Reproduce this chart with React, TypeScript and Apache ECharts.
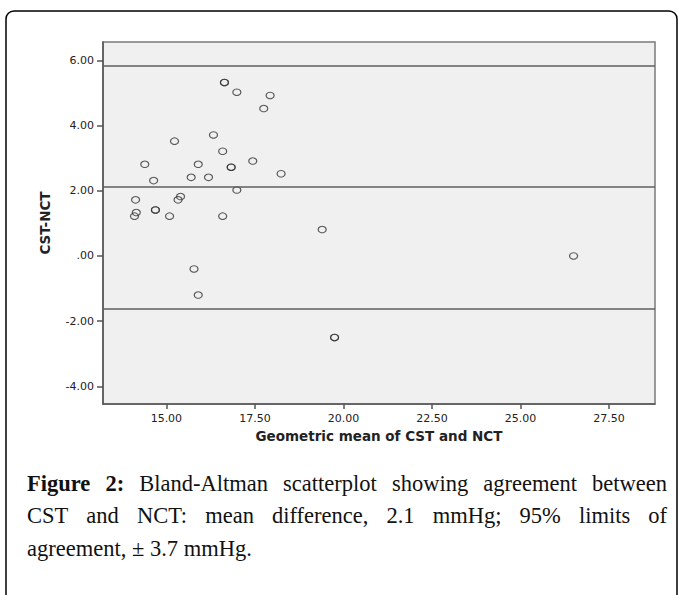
import React, { useEffect, useRef } from "react";
import * as echarts from "echarts";

// Geometric mean of CST and NCT (x) and CST-NCT difference (y)
const meanValues = [
  14.13, 14.15, 14.1, 14.39, 14.64, 14.69, 14.69, 15.09, 15.23, 15.33, 15.4,
  15.7, 15.9, 16.19, 16.33, 15.78, 15.9, 16.64, 16.64, 16.99, 17.93, 17.75,
  16.59, 17.44, 16.83, 16.83, 18.24, 16.99, 16.59, 19.4, 19.75, 19.75, 26.5,
];
const diffValues = [
  1.72, 1.33, 1.22, 2.81, 2.31, 1.41, 1.41, 1.22, 3.52, 1.72, 1.82,
  2.41, 2.81, 2.41, 3.71, -0.4, -1.2, 5.32, 5.32, 5.02, 4.92, 4.52,
  3.21, 2.91, 2.72, 2.72, 2.52, 2.02, 1.22, 0.81, -2.5, -2.5, 0.0,
];
// upper limit of agreement, mean difference, lower limit of agreement
const limitValues = [5.83, 2.11, -1.61];
const xTicks = [15, 17.5, 20, 22.5, 25, 27.5];
const yTicks = [-4, -2, 0, 2, 4, 6];
const xTitle = "Geometric mean of CST and NCT";
const yTitle = "CST-NCT";
const captionLine1 = [
  { t: "Figure", b: true },
  { t: "2:", b: true },
  { t: "Bland-Altman", b: false },
  { t: "scatterplot", b: false },
  { t: "showing", b: false },
  { t: "agreement", b: false },
  { t: "between", b: false },
];
const captionLine2 = ["CST", "and", "NCT:", "mean", "difference,", "2.1", "mmHg;", "95%", "limits", "of"];
const captionLine3 = "agreement, ± 3.7 mmHg.";

function fmt(v: number): string {
  const s = Number(v).toFixed(2);
  return s.replace(/^0\./, ".").replace(/^-0\./, "-.");
}

const FS = 22.5;
const FF = '"Liberation Serif", "Times New Roman", serif';
const CAP_LEFT = 27;
const CAP_RIGHT = 667;

function buildCaption(): any[] {
  const canvas = document.createElement("canvas");
  const ctx = canvas.getContext("2d")!;
  const measure = (t: string, bold: boolean) => {
    ctx.font = `${bold ? "bold " : ""}${FS}px ${FF}`;
    return ctx.measureText(t).width;
  };
  const out: any[] = [];
  const justify = (words: { t: string; b: boolean }[], y: number) => {
    const widths = words.map((w) => measure(w.t, w.b));
    const total = widths.reduce((a, b) => a + b, 0);
    const gap = (CAP_RIGHT - CAP_LEFT - total) / (words.length - 1);
    let x = CAP_LEFT;
    words.forEach((w, i) => {
      out.push({
        type: "text",
        x,
        y,
        silent: true,
        style: {
          text: w.t,
          fontFamily: FF,
          fontSize: FS,
          fontWeight: w.b ? "bold" : "normal",
          fill: "#111",
          verticalAlign: "middle",
          align: "left",
        },
      });
      x += widths[i] + gap;
    });
  };
  justify(captionLine1, 483);
  justify(captionLine2.map((t) => ({ t, b: false })), 515);
  out.push({
    type: "text",
    x: CAP_LEFT,
    y: 548,
    silent: true,
    style: {
      text: captionLine3,
      fontFamily: FF,
      fontSize: FS,
      fill: "#111",
      verticalAlign: "middle",
      align: "left",
    },
  });
  return out;
}

export default function App() {
  const ref = useRef<HTMLDivElement>(null);
  useEffect(() => {
    if (!ref.current) return;
    const chart = echarts.init(ref.current, null, { renderer: "svg" });
    const axisFont = { fontFamily: "DejaVu Sans", fontSize: 11, color: "#222" };
    const nameFont = { fontFamily: "DejaVu Sans", fontSize: 13.5, fontWeight: "bold" as const, color: "#222" };
    chart.setOption({
      animation: false,
      backgroundColor: "#ffffff",
      grid: {
        left: 103,
        right: 23,
        top: 42,
        bottom: 191,
        show: true,
        backgroundColor: "#f0f0f0",
        borderColor: "#7a7a7a",
        borderWidth: 1.5,
      },
      xAxis: {
        type: "value",
        min: 13.21,
        max: 28.8,
        name: xTitle,
        nameLocation: "middle",
        nameGap: 21,
        nameTextStyle: nameFont,
        axisLine: { show: true, onZero: false, lineStyle: { color: "#555", width: 1.5 } },
        axisTick: { show: true, length: 5, customValues: xTicks, lineStyle: { color: "#555", width: 1.5 } },
        axisLabel: { customValues: xTicks, formatter: fmt, margin: 9, ...axisFont },
        splitLine: { show: false },
      },
      yAxis: {
        type: "value",
        min: -4.54,
        max: 6.56,
        name: yTitle,
        nameLocation: "middle",
        nameGap: 51,
        nameTextStyle: nameFont,
        axisLine: { show: true, onZero: false, lineStyle: { color: "#555", width: 1.5 } },
        axisTick: { show: true, length: 6, customValues: yTicks, lineStyle: { color: "#555", width: 1.5 } },
        axisLabel: { customValues: yTicks, formatter: fmt, margin: 9, ...axisFont },
        splitLine: { show: false },
      },
      series: [
        {
          type: "scatter",
          data: meanValues.map((m, i) => [m, diffValues[i]]),
          symbol: "circle",
          symbolSize: [8, 6.5],
          itemStyle: { color: "rgba(0,0,0,0)", borderColor: "#333", borderWidth: 1.1 },
          markLine: {
            silent: true,
            symbol: "none",
            label: { show: false },
            lineStyle: { color: "#5f5f5f", width: 1.5, type: "solid" },
            data: limitValues.map((v) => ({ yAxis: v })),
          },
        },
      ],
      graphic: [
        {
          type: "rect",
          silent: true,
          shape: { x: 6, y: 11, width: 671, height: 640, r: 8 },
          style: { fill: "none", stroke: "#000", lineWidth: 1.5 },
        },
        ...buildCaption(),
      ],
    });
    return () => chart.dispose();
  }, []);
  return (
    <div
      ref={ref}
      style={{ position: "fixed", left: 0, top: 0, width: 678, height: 595 }}
    />
  );
}
